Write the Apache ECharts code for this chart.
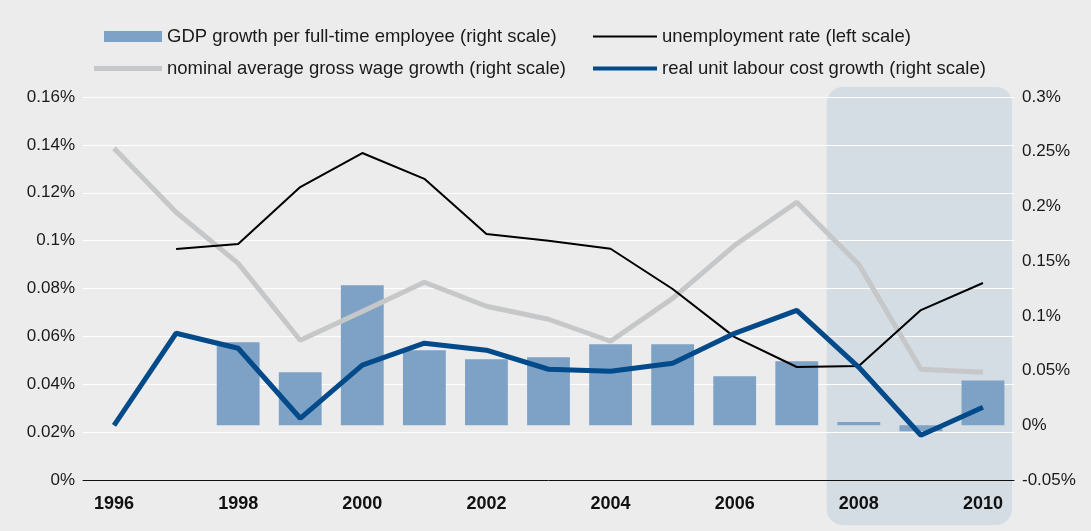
<!DOCTYPE html>
<html><head><meta charset="utf-8">
<script src="https://cdn.jsdelivr.net/npm/echarts@6/dist/echarts.min.js"></script>
<style>html,body{margin:0;padding:0;background:#ebeceb;}#c{width:1091px;height:531px;}</style>
</head><body><div id="c"></div>
<script>
const years = ['1996','1997','1998','1999','2000','2001','2002','2003','2004','2005','2006','2007','2008','2009','2010'];
const gdpGrowth = [null,null,0.0759,0.0484,0.128,0.0686,0.0603,0.0622,0.074,0.074,0.0448,0.0585,0.003,-0.0055,0.041];
const unemployment = [null,0.0965,0.0986,0.1224,0.1366,0.1258,0.1028,0.0999,0.0966,0.0798,0.0597,0.0472,0.0476,0.071,0.0823];
const nominalWage = [0.2532,0.1947,0.148,0.0777,0.104,0.1307,0.1088,0.0969,0.0768,0.116,0.1645,0.2038,0.147,0.0512,0.0484];
const realULC = [0,0.0841,0.0704,0.0064,0.055,0.075,0.0686,0.0512,0.0494,0.0567,0.084,0.105,0.053,-0.0091,0.0165];
const shadedFrom = '2008', shadedTo = '2010';
const names = ['GDP growth per full-time employee (right scale)','nominal average gross wage growth (right scale)','unemployment rate (left scale)','real unit labour cost growth (right scale)'];

const FONT = "'Liberation Sans', Arial, Helvetica, sans-serif";
const fmt = v => parseFloat(v.toFixed(2)) + '%';
const chart = echarts.init(document.getElementById('c'), null, {renderer:'canvas'});
const legendText = {fontSize:18.5, color:'#1a1a1a', fontFamily:FONT};
function lg(name, left, top, w, h){
  return {left:left, top:top, padding:0, itemWidth:w, itemHeight:h, icon:'rect', textStyle:legendText, data:[name]};
}
chart.setOption({
  backgroundColor:'#ebeceb',
  animation:false,
  grid:{left:83, right:77, top:97, bottom:51},
  legend:[
    lg(names[0], 104, 27, 58, 11),
    lg(names[1], 94, 59, 68, 5),
    lg(names[2], 593, 27, 64, 2),
    lg(names[3], 593, 59, 64, 4)
  ],
  xAxis:{type:'category', data:years, boundaryGap:true,
    axisLine:{lineStyle:{color:'#111', width:1}}, axisTick:{show:false},
    axisLabel:{interval:1, fontSize:18, fontWeight:'bold', color:'#111', fontFamily:FONT, margin:15}},
  yAxis:[
    {type:'value', min:0, max:0.16, interval:0.02, position:'left',
     axisLine:{show:false}, axisTick:{show:false},
     splitLine:{show:true, lineStyle:{color:'#ffffff', width:1}},
     axisLabel:{formatter:fmt, fontSize:17, color:'#1a1a1a', fontFamily:FONT, margin:8}},
    {type:'value', min:-0.05, max:0.3, interval:0.05, position:'right',
     axisLine:{show:false}, axisTick:{show:false}, splitLine:{show:false},
     axisLabel:{formatter:fmt, fontSize:17, color:'#1a1a1a', fontFamily:FONT, margin:8}}
  ],
  series:[
    {name:names[0], type:'bar', yAxisIndex:1, data:gdpGrowth,
     barWidth:'69%', itemStyle:{color:'#7ea2c5'}, z:2},
    {name:names[1], type:'line', yAxisIndex:1, data:nominalWage,
     symbol:'none', lineStyle:{color:'#c6c7c8', width:5}, itemStyle:{color:'#c6c7c8'}, z:3},
    {name:names[2], type:'line', yAxisIndex:0, data:unemployment,
     symbol:'none', lineStyle:{color:'#000000', width:2}, itemStyle:{color:'#000000'}, z:4},
    {name:names[3], type:'line', yAxisIndex:1, data:realULC,
     symbol:'none', lineStyle:{color:'#024a8a', width:5}, itemStyle:{color:'#024a8a'}, z:5}
  ]
});
// shaded highlight region behind the series, positioned through the axis scale
const x0 = chart.convertToPixel({xAxisIndex:0}, shadedFrom);
const x1 = chart.convertToPixel({xAxisIndex:0}, '2009');
const band = x1 - x0;
const xEnd = chart.convertToPixel({xAxisIndex:0}, shadedTo) + band/2;
const yTop = chart.convertToPixel({yAxisIndex:0}, 0.16);
const yBot = chart.convertToPixel({yAxisIndex:0}, 0);
chart.setOption({graphic:[{type:'rect', z:-1, silent:true,
  shape:{x:x0 - band/2 - 1, y:yTop - 10, width:xEnd - (x0 - band/2) - 1, height:(yBot + 45) - (yTop - 10), r:16},
  style:{fill:'#d4dce4'}}]});
</script></body></html>
